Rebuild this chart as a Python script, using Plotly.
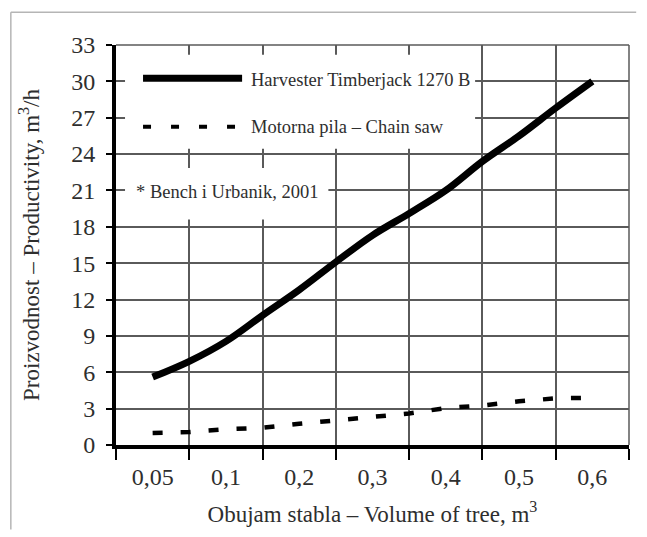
import plotly.graph_objects as go

# Tree volume classes (x categories)
categories = ["0,05", "0,1", "0,2", "0,3", "0,4", "0,5", "0,6"]
cat_pos = [0, 1, 2, 3, 4, 5, 6]
cell_edges = [-0.5, 0.5, 1.5, 2.5, 3.5, 4.5, 5.5, 6.5]

# Positions along the x scale where values were read (category centres and boundaries)
read_pos = [0, 0.5, 1, 1.5, 2, 2.5, 3, 3.5, 4, 4.5, 5, 5.5, 6]

# Harvester Timberjack 1270 B productivity, m3/h
harvester = [5.6, 6.9, 8.55, 10.7, 12.8, 15.1, 17.3, 19.1, 21.0, 23.4, 25.5, 27.8, 30.0]

# Motorna pila - Chain saw productivity, m3/h
chainsaw = [1.0, 1.07, 1.3, 1.42, 1.75, 2.06, 2.35, 2.6, 3.05, 3.26, 3.6, 3.85, 3.9]

y_ticks = [0, 3, 6, 9, 12, 15, 18, 21, 24, 27, 30, 33]

FONT = "Liberation Serif"
TXT = "#2e2e2e"
GRID = "#5a5a5a"

fig = go.Figure()
fig.add_trace(go.Scatter(
    x=read_pos, y=harvester, mode="lines",
    line=dict(color="black", width=7, shape="spline"),
    name="Harvester Timberjack 1270 B", showlegend=False))
fig.add_trace(go.Scatter(
    x=read_pos, y=chainsaw, mode="lines",
    line=dict(color="black", width=4.5, dash="10px,18px"),
    name="Motorna pila – Chain saw", showlegend=False))

shapes = [
    # white box behind legend (covers grid)
    dict(type="rect", xref="paper", yref="y", x0=0.0176, x1=0.700, y0=24.45, y1=32.2,
         fillcolor="white", line=dict(width=0), layer="above"),
    # white box behind source note
    dict(type="rect", xref="paper", yref="y", x0=0.0176, x1=0.414, y0=18.6, y1=22.85,
         fillcolor="white", line=dict(width=0), layer="above"),
    # legend samples
    dict(type="line", xref="paper", yref="y", x0=0.0527, x1=0.2458, y0=30.25, y1=30.25,
         line=dict(color="black", width=7), layer="above"),
    dict(type="line", xref="paper", yref="y", x0=0.0527, x1=0.232, y0=26.25, y1=26.25,
         line=dict(color="black", width=4, dash="8px,20px"), layer="above"),
    # plot frame (top/right)
    dict(type="line", xref="paper", yref="paper", x0=0, x1=1, y0=1, y1=1,
         line=dict(color=GRID, width=1.5), layer="below"),
    dict(type="line", xref="paper", yref="paper", x0=1, x1=1, y0=0, y1=1,
         line=dict(color=GRID, width=1.5), layer="below"),
    # light outer frame of the figure (left and top edges)
    dict(type="line", xref="paper", yref="paper", x0=-0.205, x1=1.014, y0=1.082, y1=1.082,
         line=dict(color="#b5b5b5", width=1.5), layer="above"),
    dict(type="line", xref="paper", yref="paper", x0=-0.205, x1=-0.205, y0=-0.211, y1=1.082,
         line=dict(color="#b5b5b5", width=1.5), layer="above"),
]

annotations = [
    dict(text="Harvester Timberjack 1270 B", xref="paper", yref="y", x=0.2595, y=30.15,
         xanchor="left", yanchor="middle", showarrow=False,
         font=dict(family=FONT, size=18.5, color=TXT)),
    dict(text="Motorna pila – Chain saw", xref="paper", yref="y", x=0.2595, y=26.2,
         xanchor="left", yanchor="middle", showarrow=False,
         font=dict(family=FONT, size=18.5, color=TXT)),
    dict(text="* Bench i Urbanik, 2001", xref="paper", yref="y", x=0.0351, y=20.9,
         xanchor="left", yanchor="middle", showarrow=False,
         font=dict(family=FONT, size=18.5, color=TXT)),
]

fig.update_layout(
    width=647, height=537,
    margin=dict(l=116, r=18, t=45, b=92),
    paper_bgcolor="white", plot_bgcolor="white",
    showlegend=False,
    shapes=shapes, annotations=annotations,
    xaxis=dict(
        range=[-0.5, 6.5], tickmode="array", tickvals=cat_pos, ticktext=categories,
        ticks="", showgrid=False, zeroline=False,
        showline=True, linecolor="black", linewidth=4,
        ticklabelstandoff=7,
        tickfont=dict(family=FONT, size=24, color=TXT),
        minor=dict(tickmode="array", tickvals=cell_edges, ticks="outside", ticklen=11,
                   tickwidth=2, tickcolor="black", showgrid=True, gridcolor=GRID, gridwidth=1.5),
        title=dict(text="Obujam stabla – Volume of tree, m<sup>3</sup>",
                   font=dict(family=FONT, size=23, color=TXT), standoff=18),
    ),
    yaxis=dict(
        range=[0, 33], tickmode="array", tickvals=y_ticks,
        ticks="outside", ticklen=6, tickwidth=2, tickcolor="black",
        showgrid=True, gridcolor=GRID, gridwidth=1.5, zeroline=False,
        showline=True, linecolor="black", linewidth=4,
        ticklabelstandoff=6,
        tickfont=dict(family=FONT, size=24, color=TXT),
        title=dict(text="Proizvodnost – Productivity, m<sup>3</sup>/h",
                   font=dict(family=FONT, size=23, color=TXT), standoff=26),
    ),
)

fig.write_html("out.html", config={"displayModeBar": False},
               post_script="document.body.style.margin='0px';")
